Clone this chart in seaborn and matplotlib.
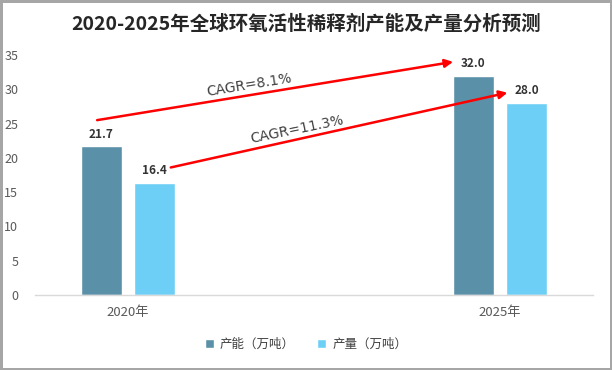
import pandas as pd
import matplotlib
matplotlib.use('Agg')
import matplotlib.pyplot as plt
import seaborn as sns

# Chart data
years = ['2020年', '2025年']
series_names = ['产能（万吨）', '产量（万吨）']
capacity = [21.7, 32.0]
output = [16.4, 28.0]
cagr_labels = ['CAGR=8.1%', 'CAGR=11.3%']
colors = ['#5B91A8', '#6DCFF6']

df = pd.DataFrame({
    'year': years * 2,
    'series': [series_names[0]] * 2 + [series_names[1]] * 2,
    'value': capacity + output,
})

sns.set_theme(style='white')
plt.rcParams['font.family'] = ['Noto Sans CJK SC', 'DejaVu Sans']

fig = plt.figure(figsize=(6.12, 3.70), dpi=100)
fig.patch.set_edgecolor('#A6A6A6')
fig.patch.set_linewidth(2.5)
ax = fig.add_axes([35 / 612, 1 - 295 / 370, 558 / 612, 240 / 370])

sns.barplot(data=df, x='year', y='value', hue='series', palette=colors,
            width=0.285, gap=0.226, saturation=1, ax=ax, legend=True)

ax.set_ylim(0, 35)
ax.set_xlim(-0.25, 1.25)
ax.set_yticks(range(0, 36, 5))
ax.set_xlabel('')
ax.set_ylabel('')
for side in ['top', 'right', 'left']:
    ax.spines[side].set_visible(False)
ax.spines['bottom'].set_color('#D9D9D9')
ax.spines['bottom'].set_linewidth(1)
ax.tick_params(axis='both', length=0, colors='#595959', labelsize=9)
ax.tick_params(axis='y', pad=12)
ax.tick_params(axis='x', pad=8, labelsize=9.5)

# Value labels
for cont in ax.containers:
    ax.bar_label(cont, fmt='%.1f', padding=4, fontsize=8.5, fontweight='bold',
                 color='#333333')

# CAGR arrows
arrows = [((-0.083, 25.5), (0.874, 34.0)), ((0.115, 18.6), (1.02, 29.5))]
text_pos = [(0.325, 30.6), (0.454, 24.1)]
angles = [9.3, 11.6]
for (start, end), lbl, pos, ang in zip(arrows, cagr_labels, text_pos, angles):
    ax.annotate('', xy=end, xytext=start,
                arrowprops=dict(arrowstyle='-|>', color='#FF0000', lw=1.8,
                                mutation_scale=12, shrinkA=0, shrinkB=0))
    ax.text(pos[0], pos[1], lbl, rotation=ang, rotation_mode='anchor',
            ha='center', va='center', fontsize=10, color='#404040',
            family=['DejaVu Sans'])

leg = ax.legend(loc='center', bbox_to_anchor=(306 / 612, 26 / 370),
                bbox_transform=fig.transFigure, ncol=2, frameon=False,
                fontsize=9, handlelength=0.7, handleheight=0.7,
                columnspacing=1.8, handletextpad=0.5)
for t in leg.get_texts():
    t.set_color('#404040')

fig.text(0.5, 1 - 24 / 370, '2020-2025年全球环氧活性稀释剂产能及产量分析预测',
         ha='center', va='center', fontsize=14, fontweight='bold',
         color='#262626')

fig.savefig('out.png', dpi=100, edgecolor=fig.get_edgecolor())
